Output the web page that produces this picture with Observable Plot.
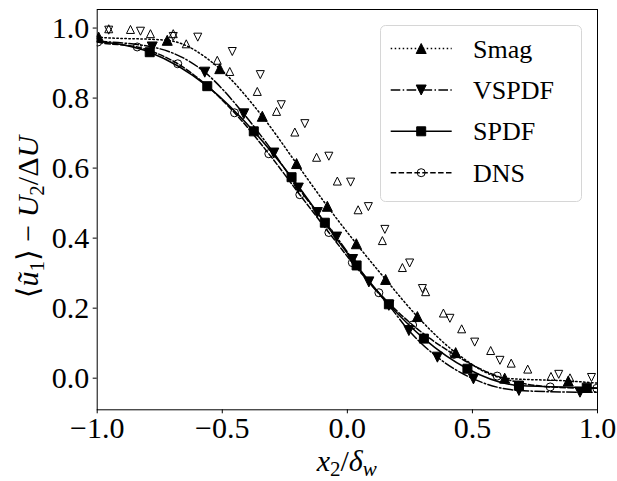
<!DOCTYPE html>
<html><head><meta charset="utf-8">
<script src="https://cdn.jsdelivr.net/npm/d3@7"></script>
<script src="https://cdn.jsdelivr.net/npm/@observablehq/plot@0.6"></script>
<style>body{margin:0;background:#fff}svg{display:block}</style>
</head><body><div id="chart"></div>
<script>
// ---- data ----
const xTicks = [-1, -0.5, 0, 0.5, 1];
const yTicks = [0, 0.2, 0.4, 0.6, 0.8, 1.0];
const seriesNames = ["Smag", "VSPDF", "SPDF", "DNS"];

// Smag (dotted, filled up-triangles)
const smagX = [-0.994, -0.72, -0.51, -0.34, -0.203, -0.08, 0.036, 0.153, 0.28, 0.433, 0.629, 0.883];
const smagY = [0.974, 0.965, 0.884, 0.748, 0.613, 0.491, 0.384, 0.282, 0.176, 0.073, 0.0, -0.008];
const smagEnds = [0.977, -0.014];

// VSPDF (dash-dot, filled down-triangles)
const vspdfX = [-0.78, -0.57, -0.414, -0.294, -0.196, -0.12, -0.043, 0.021, 0.086, 0.166, 0.246, 0.36, 0.504, 0.686, 0.93];
const vspdfY = [0.946, 0.874, 0.755, 0.643, 0.543, 0.473, 0.403, 0.339, 0.275, 0.208, 0.136, 0.06, -0.002, -0.035, -0.04];
const vspdfEnds = [0.962, -0.040];

// SPDF (solid, filled squares)
const spdfX = [-0.79, -0.56, -0.374, -0.223, -0.09, 0.037, 0.166, 0.306, 0.48, 0.686, 0.957];
const spdfY = [0.931, 0.834, 0.705, 0.574, 0.444, 0.322, 0.211, 0.113, 0.027, -0.021, -0.027];
const spdfEnds = [0.962, -0.028];

// DNS (dashed, open circles)
const dnsX = [-0.998, -0.84, -0.678, -0.451, -0.314, -0.19, -0.074, 0.02, 0.126, 0.261, 0.426, 0.599, 0.811, 0.997];
const dnsY = [0.96, 0.946, 0.898, 0.758, 0.641, 0.524, 0.416, 0.33, 0.244, 0.152, 0.068, 0.006, -0.025, -0.029];
const dnsEnds = [0.961, -0.029];

// open up-triangles
const upX = [-0.954, -0.867, -0.787, -0.696, -0.644, -0.52, -0.47, -0.36, -0.283, -0.21, -0.123, -0.04, 0.043, 0.14, 0.22, 0.313, 0.384, 0.457, 0.573, 0.655, 0.721, 0.814, 0.89];
const upY = [0.998, 0.996, 0.984, 0.984, 0.955, 0.908, 0.876, 0.819, 0.762, 0.703, 0.631, 0.563, 0.481, 0.393, 0.316, 0.247, 0.186, 0.141, 0.079, 0.043, 0.026, 0.005, 0.001];
// open down-triangles
const downX = [-0.954, -0.827, -0.696, -0.598, -0.46, -0.348, -0.264, -0.17, -0.074, 0.013, 0.084, 0.15, 0.249, 0.30, 0.41, 0.509, 0.61, 0.845, 0.976];
const downY = [0.994, 0.991, 0.976, 0.974, 0.933, 0.867, 0.781, 0.727, 0.634, 0.56, 0.49, 0.425, 0.329, 0.256, 0.171, 0.103, 0.051, 0.011, 0.002];

// ---- helpers ----
const tab = (xs, ys) => xs.map((x, i) => ({x, y: ys[i]}));
const withEnds = (xs, ys, ends) => [{x: -1, y: ends[0]}, ...tab(xs, ys), {x: 1, y: ends[1]}];
const rOf = s => Math.sqrt(s / Math.PI);
const triUp = {draw(c, s) { const r = rOf(s); c.moveTo(0, -r); c.lineTo(r, r); c.lineTo(-r, r); c.closePath(); }};
const triDown = {draw(c, s) { const r = rOf(s); c.moveTo(0, r); c.lineTo(r, -r); c.lineTo(-r, -r); c.closePath(); }};
const square = {draw(c, s) { const r = rOf(s); c.rect(-r, -r, 2 * r, 2 * r); }};

const styles = {
  Smag:  {dash: "1.5,2.5", sym: triUp, r: 5, fill: "black"},
  VSPDF: {dash: "9.6,2.4,1.5,2.4", sym: triDown, r: 5, fill: "black"},
  SPDF:  {dash: null, sym: square, r: 4.5, fill: "black"},
  DNS:   {dash: "5.5,2.4", sym: "circle", r: 4, fill: "none"}
};
const sets = {
  Smag: [smagX, smagY, smagEnds],
  VSPDF: [vspdfX, vspdfY, vspdfEnds],
  SPDF: [spdfX, spdfY, spdfEnds],
  DNS: [dnsX, dnsY, dnsEnds]
};

const marks = [
  Plot.dot(tab(upX, upY), {x: "x", y: "y", symbol: triUp, r: 4, fill: "none", stroke: "black", strokeWidth: 1, clip: true}),
  Plot.dot(tab(downX, downY), {x: "x", y: "y", symbol: triDown, r: 4, fill: "none", stroke: "black", strokeWidth: 1, clip: true})
];
for (const name of seriesNames) {
  const [xs, ys, ends] = sets[name];
  const st = styles[name];
  marks.push(Plot.line(withEnds(xs, ys, ends), {x: "x", y: "y", curve: "monotone-x", stroke: "black", strokeWidth: 1.5, strokeDasharray: st.dash, clip: true}));
  marks.push(Plot.dot(tab(xs, ys), {x: "x", y: "y", symbol: st.sym, r: st.r, fill: st.fill, stroke: "black", strokeWidth: 1, clip: true}));
}

const fmt = d3.format(".1f");
const serif = "'Liberation Serif', 'DejaVu Serif', serif";
const svg = Plot.plot({
  width: 617, height: 481,
  marginLeft: 96.7, marginRight: 20, marginTop: 9, marginBottom: 71.7,
  style: {fontFamily: serif, fontSize: "30px", background: "white", color: "black"},
  x: {domain: [-1, 1]},
  y: {domain: [-0.0903, 1.053]},
  marks: [
    Plot.axisX(xTicks, {tickSize: 4, tickPadding: 3, tickFormat: fmt, fontSize: 30, label: null}),
    Plot.axisY(yTicks, {tickSize: 4, tickPadding: 4, tickFormat: fmt, fontSize: 30, label: null}),
    ...marks,
    Plot.frame({stroke: "black", strokeWidth: 1})
  ]
});
document.getElementById("chart").appendChild(svg);

const s = d3.select(svg);

// x label
const xl = s.append("text").attr("x", 346.7).attr("y", 471).attr("text-anchor", "middle")
  .attr("font-family", serif).attr("font-size", 30).attr("fill", "black");
xl.append("tspan").attr("font-style", "italic").text("x");
xl.append("tspan").attr("font-size", 21).attr("dy", 5).text("2");
xl.append("tspan").attr("dy", -5).text("/");
xl.append("tspan").attr("font-style", "italic").text("δ");
xl.append("tspan").attr("font-style", "italic").attr("font-size", 21).attr("dy", 5).text("w");

// y label
const yl = s.append("text").attr("transform", "translate(38,217) rotate(-90)").attr("text-anchor", "middle")
  .attr("font-family", serif).attr("font-size", 30).attr("fill", "black");
yl.append("tspan").text("⟨");
yl.append("tspan").attr("font-style", "italic").text("ũ");
yl.append("tspan").attr("font-size", 21).attr("dy", 6).text("1");
yl.append("tspan").attr("dy", -6).text("⟩ − ");
yl.append("tspan").attr("font-style", "italic").text("U");
yl.append("tspan").attr("font-size", 21).attr("dy", 6).text("2");
yl.append("tspan").attr("dy", -6).text("/Δ");
yl.append("tspan").attr("font-style", "italic").text("U");

// legend
const lg = s.append("g");
lg.append("rect").attr("x", 380.5).attr("y", 25.5).attr("width", 201).attr("height", 176).attr("rx", 5)
  .attr("fill", "white").attr("fill-opacity", 0.8).attr("stroke", "#d6d6d6").attr("stroke-width", 1);
const rows = [48.5, 90, 131.3, 172.7];
seriesNames.forEach((name, i) => {
  const st = styles[name], y = rows[i];
  lg.append("line").attr("x1", 390.7).attr("x2", 451.7).attr("y1", y).attr("y2", y)
    .attr("stroke", "black").attr("stroke-width", 1.5).attr("stroke-dasharray", st.dash);
  const sym = st.sym === "circle" ? d3.symbolCircle : st.sym;
  lg.append("path").attr("transform", `translate(421.2,${y})`)
    .attr("d", d3.symbol(sym, Math.PI * st.r * st.r)())
    .attr("fill", st.fill).attr("stroke", "black").attr("stroke-width", 1);
  lg.append("text").attr("x", 473).attr("y", y + 9).attr("text-anchor", "start")
    .attr("font-family", serif).attr("font-size", 26).attr("fill", "black").text(name);
});
</script></body></html>
